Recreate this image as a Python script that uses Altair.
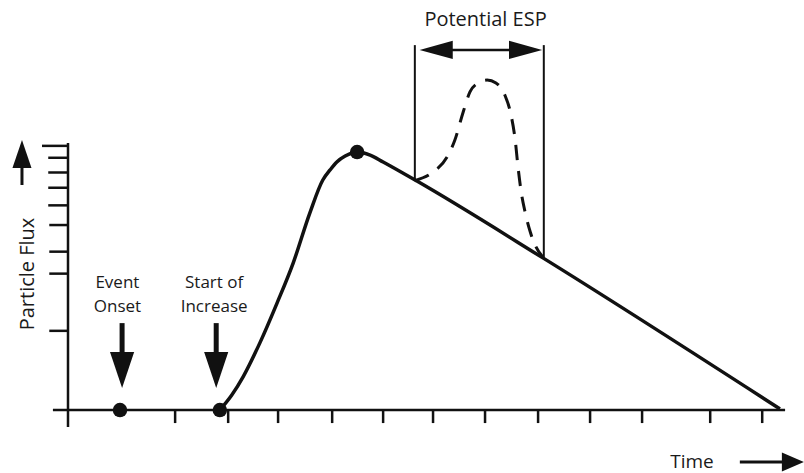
import altair as alt
import pandas as pd

# ---- data (time in tick units, particle flux on a log scale) ----
curve_t = [2.92, 3.15, 3.37, 3.69, 4.02, 4.33, 4.65, 4.90, 5.04, 5.17, 5.33, 5.56, 5.81, 6.06, 6.71, 9.14, 13.69]
curve_F = [1.00, 1.14, 1.34, 1.80, 2.55, 3.62, 5.61, 7.49, 8.18, 8.77, 9.24, 9.57, 9.32, 8.77, 7.42, 3.78, 1.01]

esp_t = [6.67, 7.02, 7.29, 7.44, 7.60, 7.73, 7.89, 8.06, 8.23, 8.40, 8.52, 8.60, 8.65, 8.71, 8.79, 8.89, 9.00, 9.14]
esp_F = [7.45, 8.03, 9.16, 10.63, 13.59, 16.19, 17.52, 17.98, 17.52, 15.77, 13.23, 10.63, 8.54, 6.86, 5.66, 4.75, 4.17, 3.80]

dot_t = [1.00, 2.92, 5.56]
dot_F = [1.00, 1.00, 9.57]

xtick_t = [2.06, 3.08, 4.04, 5.08, 6.06, 7.02, 8.02, 9.04, 10.04, 11.04, 12.35, 13.35]
ytick_F = [2.0, 3.3, 4.0, 5.05, 6.0, 7.0, 8.0, 9.1, 10.1]
ytick_start = [-0.36, -0.36, -0.36, -0.36, -0.38, -0.38, -0.38, -0.38, -0.50]

esp_bound_t = [6.67, 9.15]
esp_bound_top = [24.4, 24.4]
esp_bound_bottom = [7.45, 3.78]

label_text = [["Event", "Onset"], ["Start of", "Increase"]]
label_t = [0.95, 2.81]
label_F = [2.91, 2.91]

X = alt.Scale(domain=[-1.3077, 14.1538], nice=False, zero=False)
Y = alt.Scale(type="log", domain=[0.5761, 36.22], nice=False, zero=False)
INK = "#111111"


def xe(field="t"):
    return alt.X(f"{field}:Q", scale=X, axis=None)


def ye(field="F"):
    return alt.Y(f"{field}:Q", scale=Y, axis=None)


# axes lines
xaxis_df = pd.DataFrame({"t": [-0.29], "t2": [13.79], "F": [1.0]})
yaxis_df = pd.DataFrame({"t": [0.0], "F": [0.862], "F2": [10.36]})
xaxis = alt.Chart(xaxis_df).mark_rule(color=INK, strokeWidth=2.5).encode(x=xe(), x2="t2:Q", y=ye())
yaxis = alt.Chart(yaxis_df).mark_rule(color=INK, strokeWidth=2.5).encode(x=xe(), y=ye(), y2="F2:Q")

xt_df = pd.DataFrame({"t": xtick_t, "F": [1.0] * len(xtick_t), "F2": [0.892] * len(xtick_t)})
xticks = alt.Chart(xt_df).mark_rule(color=INK, strokeWidth=2.5).encode(x=xe(), y=ye(), y2="F2:Q")

yt_df = pd.DataFrame({"t": ytick_start, "t2": [0.0] * len(ytick_F), "F": ytick_F})
yticks = alt.Chart(yt_df).mark_rule(color=INK, strokeWidth=2.5).encode(x=xe(), x2="t2:Q", y=ye())

# main curve
curve_df = pd.DataFrame({"t": curve_t, "F": curve_F})
curve = alt.Chart(curve_df).mark_line(color=INK, strokeWidth=3.5, interpolate="monotone").encode(
    x=xe(), y=ye(), order="t:Q")

# potential ESP (dashed)
esp_df = pd.DataFrame({"t": esp_t, "F": esp_F})
esp = alt.Chart(esp_df).mark_line(color=INK, strokeWidth=3, strokeDash=[15, 11], interpolate="monotone").encode(
    x=xe(), y=ye(), order="t:Q")

bounds_df = pd.DataFrame({"t": esp_bound_t, "F": esp_bound_top, "F2": esp_bound_bottom})
bounds = alt.Chart(bounds_df).mark_rule(color=INK, strokeWidth=2).encode(x=xe(), y=ye(), y2="F2:Q")

# double arrow over ESP
esp_arrow_df = pd.DataFrame({"t": [7.0], "t2": [8.85], "F": [23.4]})
esp_arrow = alt.Chart(esp_arrow_df).mark_rule(color=INK, strokeWidth=2.5).encode(x=xe(), x2="t2:Q", y=ye())
head_left = alt.Chart(pd.DataFrame({"t": [7.08], "F": [23.4]})).mark_point(
    shape="M-1,0L1,-0.55L1,0.55Z", size=1100, filled=True, color=INK, opacity=1, strokeWidth=0
).encode(x=xe(), y=ye())
head_right = alt.Chart(pd.DataFrame({"t": [8.80], "F": [23.4]})).mark_point(
    shape="M1,0L-1,-0.55L-1,0.55Z", size=1100, filled=True, color=INK, opacity=1, strokeWidth=0
).encode(x=xe(), y=ye())

# down arrows above the dots
down_df = pd.DataFrame({"t": [1.04, 2.85], "F": [2.14, 2.14], "F2": [1.55, 1.55]})
down_shaft = alt.Chart(down_df).mark_rule(color=INK, strokeWidth=5).encode(x=xe(), y=ye(), y2="F2:Q")
down_head = alt.Chart(pd.DataFrame({"t": [1.04, 2.85], "F": [1.42, 1.42]})).mark_point(
    shape="M0,1L0.67,-1L-0.67,-1Z", size=1300, filled=True, color=INK, opacity=1, strokeWidth=0
).encode(x=xe(), y=ye())

# y-axis arrow
up_shaft = alt.Chart(pd.DataFrame({"t": [-0.885], "F": [7.17], "F2": [8.7]})).mark_rule(
    color=INK, strokeWidth=3).encode(x=xe(), y=ye(), y2="F2:Q")
up_head = alt.Chart(pd.DataFrame({"t": [-0.885], "F": [9.41]})).mark_point(
    shape="M0,-1L0.68,1L-0.68,1Z", size=784, filled=True, color=INK, opacity=1, strokeWidth=0
).encode(x=xe(), y=ye())

# time arrow
right_shaft = alt.Chart(pd.DataFrame({"t": [12.92], "t2": [13.8], "F": [0.634]})).mark_rule(
    color=INK, strokeWidth=3).encode(x=xe(), x2="t2:Q", y=ye())
right_head = alt.Chart(pd.DataFrame({"t": [13.94], "F": [0.634]})).mark_point(
    shape="M1,0L-1,-0.86L-1,0.86Z", size=484, filled=True, color=INK, opacity=1, strokeWidth=0
).encode(x=xe(), y=ye())

# dots
dots_df = pd.DataFrame({"t": dot_t, "F": dot_F})
dots = alt.Chart(dots_df).mark_circle(size=210, color=INK, opacity=1).encode(x=xe(), y=ye())

# texts
lab_df = pd.DataFrame({"t": label_t, "F": label_F, "text": label_text})
labels = alt.Chart(lab_df).mark_text(
    font="Open Sans", fontSize=17, color="#1a1a1a", align="center", baseline="alphabetic", lineHeight=24
).encode(x=xe(), y=ye(), text="text")

esp_title = alt.Chart(pd.DataFrame({"t": [8.03], "F": [30.4], "text": ["Potential ESP"]})).mark_text(
    font="Open Sans", fontSize=20, color="#1a1a1a", align="center", baseline="middle"
).encode(x=xe(), y=ye(), text="text")

ytitle = alt.Chart(pd.DataFrame({"t": [-0.655], "F": [3.29], "text": ["Particle Flux"]})).mark_text(
    font="Open Sans", fontSize=20, color="#1a1a1a", align="center", baseline="alphabetic", angle=270
).encode(x=xe(), y=ye(), text="text")

xtitle = alt.Chart(pd.DataFrame({"t": [12.0], "F": [0.603], "text": ["Time"]})).mark_text(
    font="Open Sans", fontSize=19, color="#1a1a1a", align="center", baseline="alphabetic"
).encode(x=xe(), y=ye(), text="text")

chart = alt.layer(
    xaxis, yaxis, xticks, yticks, bounds, esp_arrow, head_left, head_right,
    curve, esp, down_shaft, down_head, up_shaft, up_head, right_shaft, right_head,
    dots, labels, esp_title, ytitle, xtitle,
).properties(
    width=804, height=473, padding=0, autosize=alt.AutoSizeParams(type="none"), background="white"
).configure_view(stroke=None)

chart.save("out.html", embed_options={"renderer": "svg", "actions": False})
